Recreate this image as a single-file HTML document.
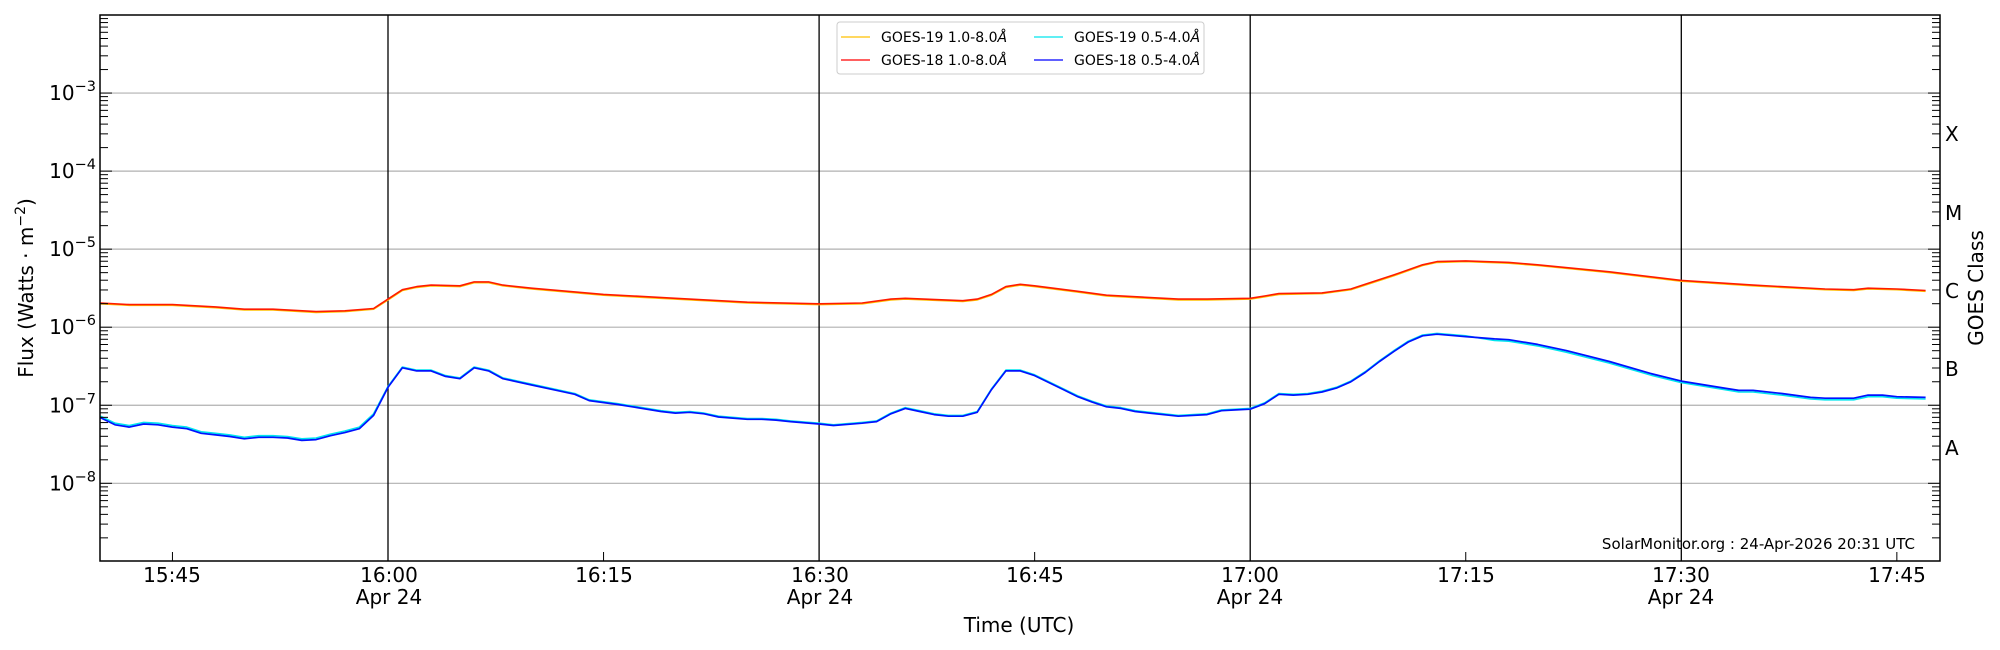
<!DOCTYPE html>
<html><head><meta charset="utf-8"><style>
html,body{margin:0;padding:0;background:#fff;}
svg{display:block;font-family:"DejaVu Sans","Liberation Sans",sans-serif;}
</style></head><body>
<svg id="s" width="2000" height="650" viewBox="0 0 2000 650" xmlns="http://www.w3.org/2000/svg">
<rect width="2000" height="650" fill="#fff"/>
<g id="grid"></g>
<g id="series"></g>
<g id="ax"></g>
<rect x="100" y="15" width="1840" height="546" fill="none" stroke="#000" stroke-width="1.5"/>
<g font-size="20" fill="#000" text-anchor="middle">
<text x="172" y="582">15:45</text>
<text x="389" y="582">16:00</text><text x="389" y="604">Apr 24</text>
<text x="604" y="582">16:15</text>
<text x="820" y="582">16:30</text><text x="820" y="604">Apr 24</text>
<text x="1035" y="582">16:45</text>
<text x="1250" y="582">17:00</text><text x="1250" y="604">Apr 24</text>
<text x="1466" y="582">17:15</text>
<text x="1681" y="582">17:30</text><text x="1681" y="604">Apr 24</text>
<text x="1897" y="582">17:45</text>
<text x="1019" y="632">Time (UTC)</text>
</g>
<g font-size="20" fill="#000" text-anchor="end" id="ylab"></g>
<text transform="translate(33,288) rotate(-90)" font-size="20" text-anchor="middle">Flux (Watts · m<tspan font-size="14" dy="-8">−2</tspan><tspan dy="8">)</tspan></text>
<g font-size="20" fill="#000">
<text x="1945" y="141">X</text><text x="1945" y="220">M</text><text x="1945" y="298">C</text><text x="1945" y="376">B</text><text x="1945" y="455">A</text>
</g>
<text transform="translate(1983,288) rotate(-90)" font-size="20" text-anchor="middle">GOES Class</text>
<text x="1915" y="549" font-size="15" text-anchor="end">SolarMonitor.org : 24-Apr-2026 20:31 UTC</text>
<g>
<rect x="837" y="22" width="367" height="52" rx="3" fill="#fff" stroke="#ccc" stroke-width="1"/>
<line x1="841" y1="37" x2="870" y2="37" stroke="#ffc000" stroke-width="1.3"/>
<line x1="841" y1="60" x2="870" y2="60" stroke="#ff0000" stroke-width="1.3"/>
<line x1="1034" y1="37" x2="1063" y2="37" stroke="#00e5ee" stroke-width="1.3"/>
<line x1="1034" y1="60" x2="1063" y2="60" stroke="#0000ff" stroke-width="1.3"/>
<g font-size="14"><text x="881" y="42">GOES-19 1.0-8.0<tspan font-style="italic">Å</tspan></text>
<text x="881" y="65">GOES-18 1.0-8.0<tspan font-style="italic">Å</tspan></text>
<text x="1074" y="42">GOES-19 0.5-4.0<tspan font-style="italic">Å</tspan></text>
<text x="1074" y="65">GOES-18 0.5-4.0<tspan font-style="italic">Å</tspan></text></g>
</g>
</svg>
<script>
var NS="http://www.w3.org/2000/svg";
function el(p,t,a){var e=document.createElementNS(NS,t);for(var k in a)e.setAttribute(k,a[k]);p.appendChild(e);return e;}
function Y(l){return 15+(-2-l)*78.05;}
function X(m){return 100.6+m*14.37;}
var g=document.getElementById('grid'),ax=document.getElementById('ax'),yl=document.getElementById('ylab');
for(var d=-8;d<=-3;d++){el(g,'line',{x1:100,x2:1940,y1:Y(d),y2:Y(d),stroke:'#b0b0b0','stroke-width':1.2});
 var t=el(yl,'text',{x:96,y:Y(d)+7});t.innerHTML='10<tspan font-size="14.5" dy="-9">−'+(-d)+'</tspan>';}
[20,50,80,110].forEach(function(m){el(g,'line',{x1:X(m),x2:X(m),y1:15,y2:561,stroke:'#000','stroke-width':1.3});});
for(var d=-9;d<-2;d++){for(var k=1;k<10;k++){var y=Y(d+Math.log10(k));if(y<15||y>561)continue;var L=k==1?12:8;
 el(ax,'line',{x1:100,x2:100+L,y1:y,y2:y,stroke:'#000','stroke-width':1});
 el(ax,'line',{x1:1940,x2:1940-L,y1:y,y2:y,stroke:'#000','stroke-width':1});}}
[5,35,65,95,125].forEach(function(m){el(ax,'line',{x1:X(m),x2:X(m),y1:561,y2:552,stroke:'#000','stroke-width':1});});
function T(s){var p=s.split(':');return (+p[0]-15)*60+(+p[1])-40;}
var red=[["15:40",-5.69],["15:42",-5.71],["15:45",-5.71],["15:48",-5.74],["15:50",-5.77],["15:52",-5.77],["15:55",-5.80],["15:57",-5.79],["15:59",-5.76],["16:00",-5.64],["16:01",-5.52],["16:02",-5.48],["16:03",-5.46],["16:05",-5.47],["16:06",-5.42],["16:07",-5.42],["16:08",-5.46],["16:10",-5.50],["16:15",-5.58],["16:20",-5.63],["16:25",-5.68],["16:30",-5.70],["16:33",-5.69],["16:35",-5.64],["16:36",-5.63],["16:40",-5.66],["16:41",-5.64],["16:42",-5.58],["16:43",-5.48],["16:44",-5.45],["16:45",-5.47],["16:48",-5.54],["16:50",-5.59],["16:55",-5.64],["16:57",-5.64],["17:00",-5.63],["17:01",-5.60],["17:02",-5.57],["17:05",-5.56],["17:07",-5.51],["17:08",-5.45],["17:10",-5.33],["17:12",-5.20],["17:13",-5.16],["17:15",-5.15],["17:18",-5.17],["17:20",-5.20],["17:25",-5.29],["17:30",-5.40],["17:35",-5.46],["17:40",-5.51],["17:42",-5.52],["17:43",-5.50],["17:45",-5.51],["17:47",-5.53]];
var blue=[["15:40",-7.16],["15:41",-7.25],["15:42",-7.28],["15:43",-7.24],["15:44",-7.25],["15:45",-7.28],["15:46",-7.30],["15:47",-7.36],["15:48",-7.38],["15:49",-7.40],["15:50",-7.43],["15:51",-7.41],["15:52",-7.41],["15:53",-7.42],["15:54",-7.45],["15:55",-7.44],["15:56",-7.39],["15:57",-7.35],["15:58",-7.30],["15:59",-7.13],["16:00",-6.77],["16:01",-6.52],["16:02",-6.56],["16:03",-6.56],["16:04",-6.63],["16:05",-6.66],["16:06",-6.52],["16:07",-6.56],["16:08",-6.66],["16:10",-6.74],["16:12",-6.82],["16:13",-6.86],["16:14",-6.94],["16:16",-6.99],["16:17",-7.02],["16:19",-7.08],["16:20",-7.10],["16:21",-7.09],["16:22",-7.11],["16:23",-7.15],["16:25",-7.18],["16:26",-7.18],["16:27",-7.19],["16:28",-7.21],["16:30",-7.24],["16:31",-7.26],["16:33",-7.23],["16:34",-7.21],["16:35",-7.11],["16:36",-7.04],["16:37",-7.08],["16:38",-7.12],["16:39",-7.14],["16:40",-7.14],["16:41",-7.09],["16:42",-6.80],["16:43",-6.56],["16:44",-6.56],["16:45",-6.62],["16:46",-6.71],["16:47",-6.80],["16:48",-6.89],["16:49",-6.96],["16:50",-7.02],["16:51",-7.04],["16:52",-7.08],["16:53",-7.10],["16:55",-7.14],["16:57",-7.12],["16:58",-7.07],["16:59",-7.06],["17:00",-7.05],["17:01",-6.98],["17:02",-6.86],["17:03",-6.87],["17:04",-6.86],["17:05",-6.83],["17:06",-6.78],["17:07",-6.70],["17:08",-6.58],["17:09",-6.44],["17:10",-6.31],["17:11",-6.19],["17:12",-6.11],["17:13",-6.09],["17:15",-6.12],["17:17",-6.15],["17:18",-6.16],["17:20",-6.22],["17:22",-6.30],["17:25",-6.44],["17:28",-6.60],["17:30",-6.69],["17:33",-6.78],["17:34",-6.81],["17:35",-6.81],["17:37",-6.85],["17:39",-6.90],["17:40",-6.91],["17:42",-6.91],["17:43",-6.87],["17:44",-6.87],["17:45",-6.89],["17:47",-6.90]];
function path(d,off,col,w){var s='';d.forEach(function(p,i){var m=T(p[0]);var o=off?off(m):0;s+=(i?'L':'M')+X(m).toFixed(1)+','+Y(p[1]+o).toFixed(1);});
 el(document.getElementById('series'),'path',{d:s,fill:'none',stroke:col,'stroke-width':w,'stroke-linejoin':'round'});}
path(red,function(m){return -0.01;},'#ffc000',1.6);
path(blue,function(m){return (m<20?0.02:(m>95?-0.02:0.01));},'#00e5ee',1.6);
path(red,null,'#ff1a00',1.6);
path(blue,null,'#0011ff',1.7);
</script>
</body></html>
